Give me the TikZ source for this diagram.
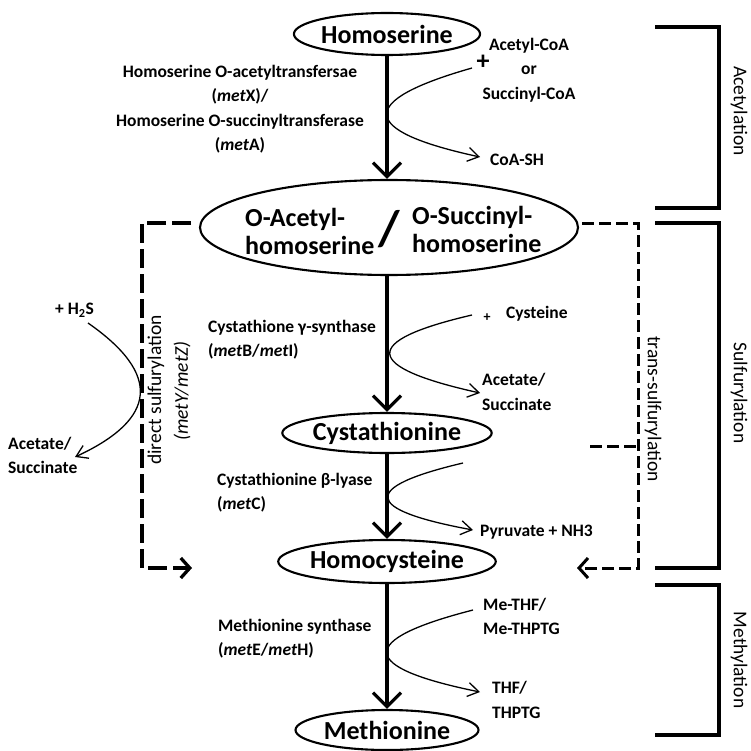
\documentclass[tikz,border=0pt]{standalone}
\usepackage{fontspec}
\setmainfont{Carlito}
\usetikzlibrary{shapes.geometric,arrows.meta}
\begin{document}
\begin{tikzpicture}[x=1pt,y=-1pt,
  mol/.style={ellipse,draw,line width=2.1pt,inner sep=0pt,font=\fontsize{26}{28}\selectfont\bfseries},
  moltxt/.style={inner sep=0pt,font=\fontsize{26}{28}\selectfont\bfseries},
  lbl/.style={font=\fontsize{17.5}{24.5}\selectfont\bfseries,inner sep=0pt},
  side/.style={font=\fontsize{19.5}{22}\selectfont,inner sep=0pt},
  mainarr/.style={line width=3.3pt,-{Straight Barb[length=14pt,width=28pt,line width=3.3pt]}},
  curvarr/.style={line width=1.3pt,-{Straight Barb[length=11pt,width=14pt,line width=1.3pt]}},
  dasharr/.style={line width=3.5pt,dash pattern=on 19pt off 6pt,-{Straight Barb[length=9pt,width=20pt,line width=3.3pt]}},
  tdasharr/.style={line width=3pt,dash pattern=on 12pt off 5pt,-{Straight Barb[length=9pt,width=20pt,line width=3pt]}},
  tdashln/.style={line width=3pt,dash pattern=on 12pt off 5pt},
  brk/.style={line width=3.3pt}
]
\useasboundingbox (0,0) rectangle (751,751);

% molecules
\node[mol,minimum width=173pt,minimum height=42pt] (hser) at (387,34) {Homoserine};
\node[ellipse,draw,line width=2.1pt,minimum width=378pt,minimum height=95pt] (oah) at (389,227.5) {};
\node[moltxt,anchor=west,align=left] (oa) at (245,231.5) {O-Acetyl-\\homoserine};
\node[moltxt,anchor=west,align=left] (os) at (412,229) {O-Succinyl-\\homoserine};
\node[inner sep=0pt,font=\fontsize{50}{50}\selectfont\bfseries] (sl) at (389,229) {/};
\node[mol,minimum width=178pt,minimum height=40pt] (cys) at (387,433) {Cystathionine};
\node[mol,minimum width=181pt,minimum height=43pt] (hcy) at (387,561.5) {Homocysteine};
\node[mol,minimum width=183pt,minimum height=40pt] (met) at (387,730) {Methionine};

% main arrows
\draw[mainarr] (hser.south) -- (hser.south |- oah.north);
\draw[mainarr] (oah.south -| cys.north) -- (cys.north);
\draw[mainarr] (cys.south) -- (hcy.north);
\draw[mainarr] (hcy.south) -- (met.north);

% enzyme labels
\node[lbl,align=center] (e1) at (240,109) {Homoserine O-acetyltransfersae\\(\textit{met}X)/\\Homoserine O-succinyltransferase\\(\textit{met}A)};
\node[lbl,align=left,anchor=west] (e2) at (208,339.5) {Cystathione γ-synthase\\(\textit{met}B/\textit{met}I)};
\node[lbl,align=left,anchor=west] (e3) at (217,492.5) {Cystathionine β-lyase\\(\textit{met}C)};
\node[lbl,align=left,anchor=west] (e4) at (218,638.5) {Methionine synthase\\(\textit{met}E/\textit{met}H)};

% co-substrates
\node[inner sep=0pt,font=\fontsize{26}{26}\selectfont\bfseries] (p1) at (483,62) {+};
\node[lbl,align=center] (acoa) at (529,70) {Acetyl-CoA\\or\\Succinyl-CoA};
\node[lbl,anchor=west] (coash) at (490,160) {CoA-SH};
\node[inner sep=0pt,font=\fontsize{14}{14}\selectfont\bfseries] (p2) at (487,318) {+};
\node[lbl,anchor=west] (cyst) at (506,314) {Cysteine};
\node[lbl,anchor=west,align=left] (acs1) at (482,392) {Acetate/\\Succinate};
\node[lbl,anchor=west] (pyr) at (480,532) {Pyruvate + NH3};
\node[lbl,anchor=west,align=left] (mthf) at (483,616.5) {Me-THF/\\Me-THPTG};
\node[lbl,anchor=west,align=left] (thf) at (492,700) {THF/\\THPTG};
\node[lbl,anchor=west] (h2s) at (55,310) {+ H\textsubscript{2}S};
\node[lbl,anchor=west,align=left] (acs2) at (8,455.5) {Acetate/\\Succinate};

% side curves
\coordinate (a1s) at (472,68);  \coordinate (a1e) at (480,157);
\coordinate (a2s) at (472,315); \coordinate (a2e) at (480,393);
\coordinate (a3s) at (463,463); \coordinate (a3e) at (473,530);
\coordinate (a4s) at (473,610); \coordinate (a4e) at (480,692);
\coordinate (a5s) at (88,323);  \coordinate (a5e) at (75,457);
\draw[curvarr] (a1s) .. controls (356,101) and (358.7,130.7) .. (a1e);
\draw[curvarr] (a2s) .. controls (360,341) and (362.7,367) .. (a2e);
\draw[curvarr] (a3s) .. controls (359.7,487.3) and (363,509.7) .. (a3e);
\draw[curvarr] (a4s) .. controls (356,640) and (358.3,667.3) .. (a4e);
\draw[curvarr] (a5s) .. controls (161.7,374.3) and (157.3,419) .. (a5e);

% direct sulfurylation
\coordinate (d0) at (191,223); \coordinate (d1) at (142,223);
\coordinate (d2) at (142,568); \coordinate (d3) at (192,568);
\draw[dasharr] (d0) -- (d1) -- (d2) -- (d3);
\node[side,rotate=90] (dsl) at (156,390) {direct sulfurylation};
\node[side,rotate=90] (dsm) at (182,391) {\textit{(metY/metZ)}};

% trans-sulfurylation
\coordinate (t0) at (582,223); \coordinate (t1) at (638,223);
\coordinate (t2) at (638,568); \coordinate (t3) at (577,568);
\coordinate (tb) at (590,446);
\draw[tdasharr] (t0) -- (t1) -- (t2) -- (t3);
\draw[tdashln] (tb) -- (tb -| t1);
\node[side,rotate=-90] (trl) at (653,409) {trans-sulfurylation};

% brackets
\coordinate (b1a) at (655,27);  \coordinate (b1b) at (719,27);
\coordinate (b1c) at (719,208); \coordinate (b1d) at (655,208);
\coordinate (b2a) at (655,223); \coordinate (b2b) at (719,223);
\coordinate (b2c) at (719,568); \coordinate (b2d) at (655,568);
\coordinate (b3a) at (655,585); \coordinate (b3b) at (719,585);
\coordinate (b3c) at (719,735); \coordinate (b3d) at (655,735);
\draw[brk] (b1a) -- (b1b) -- (b1c) -- (b1d);
\draw[brk] (b2a) -- (b2b) -- (b2c) -- (b2d);
\draw[brk] (b3a) -- (b3b) -- (b3c) -- (b3d);
\node[side,rotate=-90] (acl) at (739,111) {Acetylation};
\node[side,rotate=-90] (sul) at (739,393) {Sulfurylation};
\node[side,rotate=-90] (mel) at (739,660) {Methylation};
\end{tikzpicture}
\end{document}
